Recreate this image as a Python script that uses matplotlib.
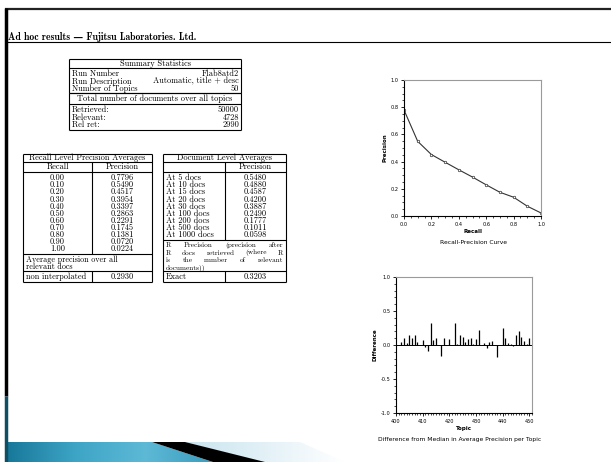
import matplotlib
matplotlib.use('Agg')
import matplotlib.pyplot as plt
from matplotlib.patches import Polygon
from matplotlib.colors import LinearSegmentedColormap
from matplotlib.ticker import MultipleLocator, FormatStrFormatter
import numpy as np

# ---- data ----
page_title = 'Ad hoc results \u2014 Fujitsu Laboratories. Ltd.'

run_number = 'Flab8atd2'
run_description = 'Automatic, title + desc'
num_topics = 50
retrieved = 50000
relevant = 4728
rel_ret = 2990

recall_levels = [0.0, 0.1, 0.2, 0.3, 0.4, 0.5, 0.6, 0.7, 0.8, 0.9, 1.0]
recall_precision = [0.7796, 0.5490, 0.4517, 0.3954, 0.3397, 0.2863,
                    0.2291, 0.1745, 0.1381, 0.0720, 0.0224]
avg_precision = 0.2930

doc_cutoffs = [5, 10, 15, 20, 30, 100, 200, 500, 1000]
doc_precision = [0.5480, 0.4880, 0.4587, 0.4200, 0.3887, 0.2490,
                 0.1777, 0.1011, 0.0598]
r_precision = 0.3203
r_note = ['R Precision (precision after', 'R docs retrieved (where R',
          'is the number of relevant', 'documents))']

topics = list(range(401, 451))
median_diff = [0.00, 0.05, 0.10, 0.03, 0.15, 0.11, 0.15, 0.05, 0.00, 0.08,
               -0.03, -0.09, 0.32, 0.08, 0.10, 0.00, -0.16, 0.10, 0.00, 0.09,
               0.00, 0.33, 0.02, 0.15, 0.12, 0.04, 0.09, 0.10, 0.01, 0.09,
               0.22, 0.00, 0.03, -0.04, 0.05, 0.06, 0.00, -0.17, 0.00, 0.25,
               0.10, 0.03, 0.02, -0.01, 0.15, 0.21, 0.12, 0.06, 0.01, 0.10]

W, H = 611, 462
fig = plt.figure(figsize=(W / 100, H / 100), dpi=100)
bg = fig.add_axes([0, 0, 1, 1])
bg.axis('off')

SERIF = ['cmr10', 'DejaVu Serif']
FS = 6


def txt(x, y, s, ha='left', fs=FS, **kw):
    return bg.text(x, y, s, ha=ha, va='center', fontsize=fs, family=SERIF, **kw)


def hline(y, x0, x1, lw=0.8, color='black'):
    bg.plot([x0, x1], [y, y], color=color, lw=lw, solid_capstyle='butt')


def vline(x, y0, y1, lw=0.8, color='black'):
    bg.plot([x, x], [y0, y1], color=color, lw=lw, solid_capstyle='butt')


def box(x0, y0, x1, y1):
    hline(y0, x0, x1)
    hline(y1, x0, x1)
    vline(x0, y0, y1)
    vline(x1, y0, y1)


# ---- slide frame and bottom decoration ----
hline(9, 5, W, lw=1.6, color='#222222')
vline(6, 8, 396, lw=2.5)
vline(6, 396, H, lw=2.5, color='#0f4f63')
bg.text(8, 36.5, page_title, fontsize=7, family=['cmb10', 'DejaVu Serif'],
        fontweight='bold', va='center')
hline(42, 6, W, lw=0.8)

blue = LinearSegmentedColormap.from_list('b', ['#17789a', '#3ea5c6', '#5db9d6', '#3a9cbd'])
grad = np.linspace(0, 1, 256).reshape(1, -1)
im = bg.imshow(grad, cmap=blue, extent=(7, 215, H, 442), aspect='auto', zorder=1)
p = Polygon([(7, 442), (152, 442), (213, H), (7, H)], closed=True, transform=bg.transData)
im.set_clip_path(p)
pale = LinearSegmentedColormap.from_list('p', ['#c9e4ef', '#e3f1f7', '#ffffff'])
im2 = bg.imshow(grad, cmap=pale, extent=(185, 345, H, 442), aspect='auto', zorder=1)
p2 = Polygon([(185, 442), (300, 442), (345, H), (262, H)], closed=True, transform=bg.transData)
im2.set_clip_path(p2)
bg.add_patch(Polygon([(152, 442), (185, 442), (265, H), (213, H)], closed=True,
                     facecolor='black', edgecolor='none', zorder=2))

# ---- summary statistics ----
sx0, sx1 = 69, 241
box(sx0, 59, sx1, 93)
hline(68, sx0, sx1)
txt((sx0 + sx1) / 2, 63.5, 'Summary Statistics', ha='center')
rows = [('Run Number', run_number), ('Run Description', run_description),
        ('Number of Topics', str(num_topics))]
for i, (k, v) in enumerate(rows):
    y = 74 + 7.5 * i
    txt(sx0 + 3, y, k)
    txt(sx1 - 2, y, v, ha='right')
box(sx0, 93, sx1, 130)
hline(104, sx0, sx1)
txt((sx0 + sx1) / 2, 99, 'Total number of documents over all topics', ha='center')
rows = [('Retrieved:', retrieved), ('Relevant:', relevant), ('Rel ret:', rel_ret)]
for i, (k, v) in enumerate(rows):
    y = 110 + 7.5 * i
    txt(sx0 + 3, y, k)
    txt(sx1 - 2, y, str(v), ha='right')

# ---- recall level precision table ----
rx0, rxm, rx1 = 23, 92, 152
box(rx0, 154, rx1, 282)
hline(162, rx0, rx1)
hline(172, rx0, rx1)
hline(254, rx0, rx1)
hline(271, rx0, rx1)
vline(rxm, 162, 254)
vline(rxm, 271, 282)
txt((rx0 + rx1) / 2, 158, 'Recall Level Precision Averages', ha='center')
txt((rx0 + rxm) / 2, 167, 'Recall', ha='center')
txt((rxm + rx1) / 2, 167, 'Precision', ha='center')
for i, (r, pr) in enumerate(zip(recall_levels, recall_precision)):
    y = 178 + 7.1 * i
    txt((rx0 + rxm) / 2, y, '%.2f' % r, ha='center')
    txt((rxm + rx1) / 2, y, '%.4f' % pr, ha='center')
txt(rx0 + 3, 259.5, 'Average precision over all', fs=5.8)
txt(rx0 + 3, 266.5, 'relevant docs', fs=5.8)
txt(rx0 + 3, 276.5, 'non interpolated')
txt((rxm + rx1) / 2, 276.5, '%.4f' % avg_precision, ha='center')

# ---- document level averages table ----
dx0, dxm, dx1 = 163, 225, 286
box(dx0, 154, dx1, 282)
hline(162, dx0, dx1)
hline(172, dx0, dx1)
hline(240, dx0, dx1)
hline(271, dx0, dx1)
vline(dxm, 162, 240)
vline(dxm, 271, 282)
txt((dx0 + dx1) / 2, 158, 'Document Level Averages', ha='center')
txt((dxm + dx1) / 2, 167, 'Precision', ha='center')
for i, (c, pr) in enumerate(zip(doc_cutoffs, doc_precision)):
    y = 178 + 7.1 * i
    txt(dx0 + 3, y, 'At %d docs' % c)
    txt((dxm + dx1) / 2, y, '%.4f' % pr, ha='center')

# justified paragraph for the R precision note
renderer = fig.canvas.get_renderer()
NOTE_FS = 5.2
for i, line in enumerate(r_note):
    y = 245.3 + 7.3 * i
    words = line.split()
    if i == len(r_note) - 1:
        txt(dx0 + 3, y, line, fs=NOTE_FS)
        continue
    objs = [txt(0, y, w, fs=NOTE_FS) for w in words]
    widths = [o.get_window_extent(renderer).width for o in objs]
    gap = ((dx1 - 3) - (dx0 + 3) - sum(widths)) / (len(words) - 1)
    x = dx0 + 3
    for o, w in zip(objs, widths):
        o.set_x(x)
        x += w + gap
txt(dx0 + 3, 276.5, 'Exact')
txt((dxm + dx1) / 2, 276.5, '%.4f' % r_precision, ha='center')

bg.set_xlim(0, W)
bg.set_ylim(H, 0)


# ---- charts ----
def style_axes(ax):
    for s in ['top', 'right']:
        ax.spines[s].set_color('#9a9a9a')
    for s in ['left', 'bottom']:
        ax.spines[s].set_color('black')
    for s in ax.spines.values():
        s.set_linewidth(0.8)
    ax.tick_params(which='major', length=2.5, width=0.6, labelsize=3.6, pad=1.5)
    ax.tick_params(which='minor', length=1.3, width=0.5)
    ax.tick_params(top=False, right=False, which='both')


def px_axes(x0, y0, x1, y1):
    return fig.add_axes([x0 / W, 1 - y1 / H, (x1 - x0) / W, (y1 - y0) / H])


ax1 = px_axes(404, 80, 541, 216)
ax1.plot(recall_levels, recall_precision, color='#333333', lw=0.8,
         marker='o', ms=1.8, mfc='white', mec='#333333', mew=0.5)
ax1.set_xlim(0, 1)
ax1.set_ylim(0, 1)
ax1.xaxis.set_major_locator(MultipleLocator(0.2))
ax1.yaxis.set_major_locator(MultipleLocator(0.2))
ax1.xaxis.set_minor_locator(MultipleLocator(0.05))
ax1.yaxis.set_minor_locator(MultipleLocator(0.05))
ax1.xaxis.set_major_formatter(FormatStrFormatter('%.1f'))
ax1.yaxis.set_major_formatter(FormatStrFormatter('%.1f'))
style_axes(ax1)
ax1.set_xlabel('Recall', fontsize=4, fontweight='bold', labelpad=2)
ax1.set_ylabel('Precision', fontsize=4, fontweight='bold', labelpad=2)

ax2 = px_axes(396, 277, 532, 413)
ax2.vlines(topics, 0, median_diff, color='black', lw=0.9)
ax2.axhline(0, color='black', lw=0.7)
ax2.set_xlim(400, 451)
ax2.set_ylim(-1, 1)
ax2.xaxis.set_major_locator(MultipleLocator(10))
ax2.xaxis.set_minor_locator(MultipleLocator(1))
ax2.yaxis.set_major_locator(MultipleLocator(0.5))
ax2.yaxis.set_minor_locator(MultipleLocator(0.1))
ax2.yaxis.set_major_formatter(FormatStrFormatter('%.1f'))
style_axes(ax2)
ax2.set_xlabel('Topic', fontsize=4, fontweight='bold', labelpad=2)
ax2.set_ylabel('Difference', fontsize=4, fontweight='bold', labelpad=2)

bg.text(473, 242, 'Recall-Precision Curve', ha='center', va='center', fontsize=4.3)
bg.text(460, 439, 'Difference from Median in Average Precision per Topic',
        ha='center', va='center', fontsize=4.3)

fig.savefig('out.png', dpi=100)
